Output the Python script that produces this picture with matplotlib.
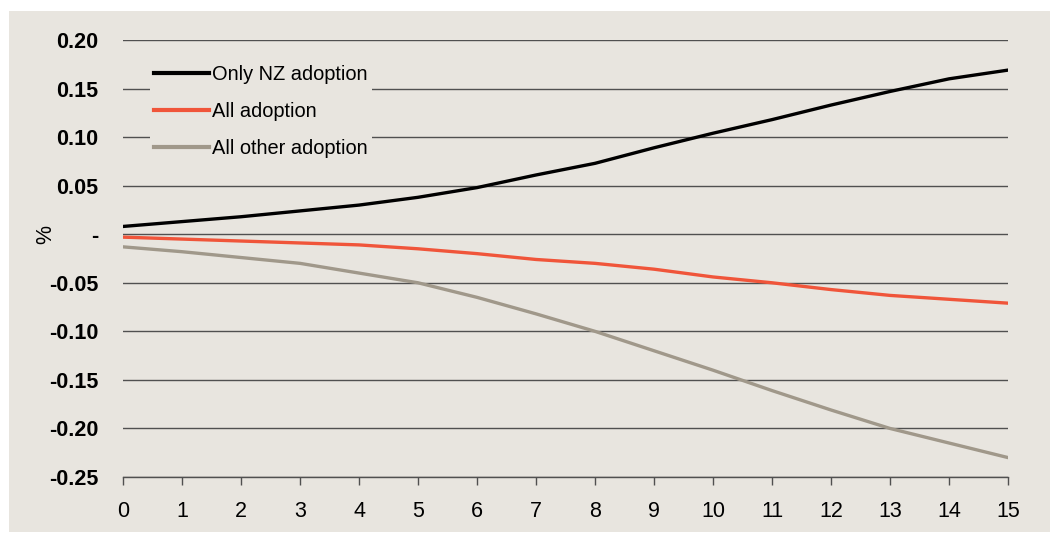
import matplotlib.pyplot as plt
from matplotlib.patches import Rectangle
from matplotlib.ticker import FixedLocator

years = list(range(16))
only_nz = [0.008, 0.013, 0.018, 0.024, 0.030, 0.038, 0.048, 0.061, 0.073,
           0.089, 0.104, 0.118, 0.133, 0.147, 0.160, 0.169]
all_adoption = [-0.003, -0.005, -0.007, -0.009, -0.011, -0.015, -0.020, -0.026,
                -0.030, -0.036, -0.044, -0.050, -0.057, -0.063, -0.067, -0.071]
all_other = [-0.013, -0.018, -0.024, -0.030, -0.040, -0.050, -0.065, -0.082,
             -0.100, -0.120, -0.140, -0.161, -0.181, -0.200, -0.215, -0.230]
y_ticks = [0.20, 0.15, 0.10, 0.05, 0.0, -0.05, -0.10, -0.15, -0.20, -0.25]
y_labels = ["0.20", "0.15", "0.10", "0.05", "-", "-0.05", "-0.10", "-0.15", "-0.20", "-0.25"]

plt.rcParams['font.family'] = ['Liberation Sans', 'DejaVu Sans']
bg = '#E8E5DF'
fs = 15.5

W, H = 1055, 533
fig = plt.figure(figsize=(W / 100, H / 100), dpi=100)
fig.patch.set_facecolor('white')
fig.add_artist(Rectangle((9 / W, 1 - 532 / H), (1050 - 9) / W, (532 - 11) / H,
                         transform=fig.transFigure, facecolor=bg,
                         edgecolor='none', zorder=-1))

ax = fig.add_axes([123 / W, 1 - 477 / H, (1008 - 123) / W, (477 - 40) / H])
ax.set_facecolor('none')
ax.set_zorder(2)

ax.plot(years, only_nz, color='black', lw=2.4, label='Only NZ adoption', zorder=3)
ax.plot(years, all_adoption, color='#F0553A', lw=2.4, label='All adoption', zorder=3)
ax.plot(years, all_other, color='#A0988A', lw=2.4, label='All other adoption', zorder=3)

ax.set_xlim(0, 15)
ax.set_ylim(-0.25, 0.20)
ax.yaxis.set_major_locator(FixedLocator(y_ticks))
ax.set_yticklabels(y_labels, fontsize=fs, fontweight='bold')
ax.set_xticks(years)
ax.set_xticklabels([str(y) for y in years], fontsize=fs)
ax.grid(axis='y', color='#505050', lw=1, zorder=1)
ax.tick_params(axis='y', length=0, pad=18)
ax.tick_params(axis='x', length=6, color='#505050', width=1, pad=11)
for s in ['top', 'right', 'left']:
    ax.spines[s].set_visible(False)
ax.spines['bottom'].set_color('#505050')
ax.spines['bottom'].set_linewidth(1)

ax.set_ylabel('%', fontsize=fs)
ax.yaxis.set_label_coords(-0.075, 0.556)

leg = ax.legend(loc='upper left', bbox_to_anchor=(0.031, 0.951), frameon=True,
                fontsize=14.4, handlelength=2.75, handletextpad=0.15,
                labelspacing=0.88, borderpad=0.2, borderaxespad=0)
leg.get_frame().set_facecolor(bg)
leg.get_frame().set_edgecolor('none')
leg.get_frame().set_alpha(1)
for line in leg.get_lines():
    line.set_linewidth(3)

fig.savefig('out.png', dpi=100)
